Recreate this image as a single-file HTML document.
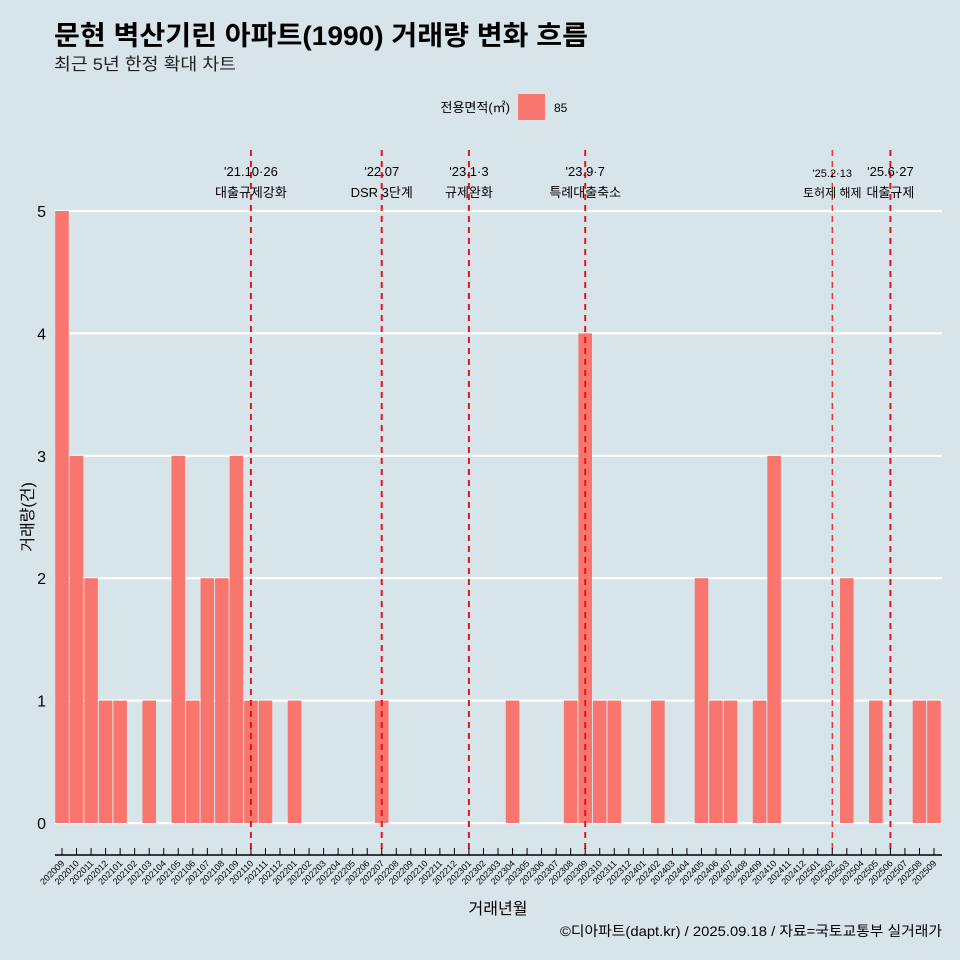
<!DOCTYPE html>
<html><head><meta charset="utf-8"><style>
body{margin:0;background:#d7e4ea;}
svg{display:block;font-family:"Liberation Sans","Noto Sans CJK KR",sans-serif;}
</style></head><body>
<svg id="c" width="960" height="960">
<rect width="960" height="960" fill="#d7e4ea"/>
<text x="54" y="45" font-size="27" font-weight="bold" fill="#000" textLength="534" lengthAdjust="spacingAndGlyphs">문현 벽산기린 아파트(1990) 거래량 변화 흐름</text>
<text x="54" y="70" font-size="17" fill="#222" textLength="182" lengthAdjust="spacingAndGlyphs">최근 5년 한정 확대 차트</text>
<text x="510" y="112" font-size="13" text-anchor="end">전용면적(㎡)</text>
<rect x="518" y="94" width="27" height="26" fill="#f8766d"/>
<text x="554" y="112" font-size="12">85</text>
<g id="grid"></g><g id="bars"></g><g id="vlines"></g><g id="xaxis"></g>
<text x="33" y="517" font-size="16" text-anchor="middle" transform="rotate(-90 33 517)">거래량(건)</text>
<text x="498" y="914" font-size="16" text-anchor="middle">거래년월</text>
<text x="560" y="936" font-size="14" textLength="382" lengthAdjust="spacingAndGlyphs">©디아파트(dapt.kr) / 2025.09.18 / 자료=국토교통부 실거래가</text>
</svg>
<script>
const categories=[];
for(let y=2020,m=9;!(y===2025&&m===10);){categories.push(y+String(m).padStart(2,'0'));m++;if(m>12){m=1;y++;}}
const values=[5,3,2,1,1,0,1,0,3,1,2,2,3,1,1,0,1,0,0,0,0,0,1,0,0,0,0,0,0,0,0,1,0,0,0,1,4,1,1,0,0,1,0,0,2,1,1,0,1,3,0,0,0,0,2,0,1,0,0,1,1];
const yTicks=[0,1,2,3,4,5];
const events=[{m:'202110',d:"'21.10·26",t:'대출규제강화'},{m:'202207',d:"'22.07",t:'DSR 3단계'},{m:'202301',d:"'23.1·3",t:'규제완화'},{m:'202309',d:"'23.9·7",t:'특례대출축소'},{m:'202502',d:"'25.2·13",t:'토허제 해제',thin:1},{m:'202506',d:"'25.6·27",t:'대출규제'}];
const NS='http://www.w3.org/2000/svg';
const x0=62,step=(934-62)/60,y0=823,yU=(823-211)/5;
const X=i=>x0+i*step, Y=v=>y0-v*yU;
function mk(t,a,p){const e=document.createElementNS(NS,t);for(const k in a)e.setAttribute(k,a[k]);p.appendChild(e);return e;}
const grid=document.getElementById('grid');
yTicks.forEach(v=>{
 const l=mk('line',{x1:55,x2:942,y1:Y(v),y2:Y(v),stroke:'#fff','stroke-width':2.2},grid);
 
 
 const t=mk('text',{x:46,y:Y(v)+6,'font-size':16,'text-anchor':'end'},grid);t.textContent=v;
 
 
});
const bars=document.getElementById('bars');
values.forEach((v,i)=>{if(v<=0)return;
 const r=mk('rect',{x:X(i)-step/2+0.5,y:Y(v),width:step-1,height:v*yU,fill:'#f8766d'},bars);
 
 
});
const vl=document.getElementById('vlines');
events.forEach(e=>{const i=categories.indexOf(e.m),x=X(i);
 const l=mk('line',{x1:x,x2:x,y1:150,y2:855,stroke:'#e8141c','stroke-width':e.thin?1.2:2,'stroke-dasharray':'6,5'},vl);
 
 
 const a=mk('text',{x:x,y:e.thin?177:176,'font-size':e.thin?11:13,'text-anchor':'middle'},vl);a.textContent=e.d;
 
 
 const b=mk('text',{x:x,y:197,'font-size':e.thin?12:13,'text-anchor':'middle'},vl);b.textContent=e.t;
 
 
});
const xa=document.getElementById('xaxis');
const al=mk('line',{x1:55,x2:942,y1:855,y2:855,stroke:'#000','stroke-width':1.5},xa);


categories.forEach((c,i)=>{const x=X(i);
 mk('line',{x1:x,x2:x,y1:848,y2:855,stroke:'#000','stroke-width':1},xa);
 const t=mk('text',{x:x+3,y:864,'font-size':9,'text-anchor':'end',transform:`rotate(-45 ${x+3} 864)`},xa);t.textContent=c;
 
 
});
</script>
</body></html>
